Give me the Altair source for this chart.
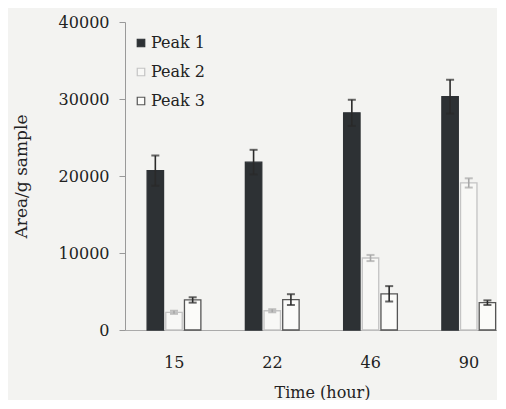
import altair as alt
import pandas as pd

times = ["15", "22", "46", "90"]
peaks = ["Peak 1", "Peak 2", "Peak 3"]
peak1 = [20700, 21800, 28200, 30300]
err1 = [1950, 1600, 1700, 2200]
peak2 = [2300, 2500, 9350, 19100]
err2 = [200, 200, 400, 600]
peak3 = [3900, 3950, 4700, 3550]
err3 = [350, 700, 1000, 300]
y_ticks = [0, 10000, 20000, 30000, 40000]

rows = []
for name, vals, errs in zip(peaks, [peak1, peak2, peak3], [err1, err2, err3]):
    for t, v, e in zip(times, vals, errs):
        rows.append({"time": t, "peak": name, "value": v, "lo": v - e, "hi": v + e})
df = pd.DataFrame(rows)

FONT = "DejaVu Serif"
BG = "#f3f3f1"

x = alt.X(
    "time:N",
    sort=times,
    scale=alt.Scale(domain=times, range=[0, 393], paddingInner=0, paddingOuter=0),
    axis=alt.Axis(
        title="Time (hour)", labelAngle=0, ticks=False, labelPadding=24,
        labelFont=FONT, labelFontSize=16, labelColor="#222",
        titleFont=FONT, titleFontSize=16, titleFontWeight="normal", titleColor="#222",
        titlePadding=14, titleX=197, titleAlign="center", titleAnchor="start",
        domainColor="#aaaaaa", domainWidth=1.2,
    ),
)
xoff = alt.XOffset(
    "peak:N", sort=peaks,
    scale=alt.Scale(domain=peaks, range=[21, 77], paddingInner=0.12, paddingOuter=0.06),
)
y_scale = alt.Scale(domain=[0, 40000])

legend = alt.Legend(title=None, orient="none", legendX=8, legendY=13,
                    symbolType="square", symbolSize=56, symbolStrokeWidth=1.2,
                    labelFont=FONT, labelFontSize=16, labelColor="#222",
                    rowPadding=13, labelOffset=2)

base = alt.Chart(df).encode(x=x, xOffset=xoff)

bars = base.mark_bar(strokeWidth=1.3).encode(
    y=alt.Y(
        "value:Q", scale=y_scale,
        axis=alt.Axis(
            title="Area/g sample", values=y_ticks, format="d", grid=False,
            labelFont=FONT, labelFontSize=16, labelColor="#222", labelPadding=10,
            tickSize=6, tickColor="#999", domainColor="#999",
            titleFont=FONT, titleFontSize=17, titleFontWeight="normal", titleColor="#222",
            titleX=-104, titleY=154, titleAlign="center", titleBaseline="middle",
        ),
    ),
    fill=alt.Fill(
        "peak:N", sort=peaks,
        scale=alt.Scale(domain=peaks, range=["#2d3134", "#f8f8f6", "#fbfbf9"]),
        legend=legend,
    ),
    stroke=alt.Stroke(
        "peak:N", sort=peaks,
        scale=alt.Scale(domain=peaks, range=["#2d3134", "#c4c4c4", "#555555"]),
        legend=legend,
    ),
)

err_color = alt.condition(alt.datum.peak == "Peak 2", alt.value("#a8a8a8"), alt.value("#2a2a2a"))

rules = base.mark_rule(strokeWidth=1.6).encode(
    y=alt.Y("lo:Q", scale=y_scale), y2="hi:Q", color=err_color,
)
caps_hi = base.mark_tick(thickness=2, size=8).encode(
    y=alt.Y("hi:Q", scale=y_scale), color=err_color,
)
caps_lo = base.mark_tick(thickness=2, size=8).encode(
    y=alt.Y("lo:Q", scale=y_scale), color=err_color,
)

chart = (
    alt.layer(bars, rules, caps_hi, caps_lo)
    .properties(
        width=372, height=308, background=BG,
        autosize=alt.AutoSizeParams(type="none"),
        padding={"left": 117, "top": 14, "right": 0, "bottom": 70},
    )
    .configure_view(stroke=None)
)

chart.save("out.html", embed_options={"renderer": "svg", "actions": False})
